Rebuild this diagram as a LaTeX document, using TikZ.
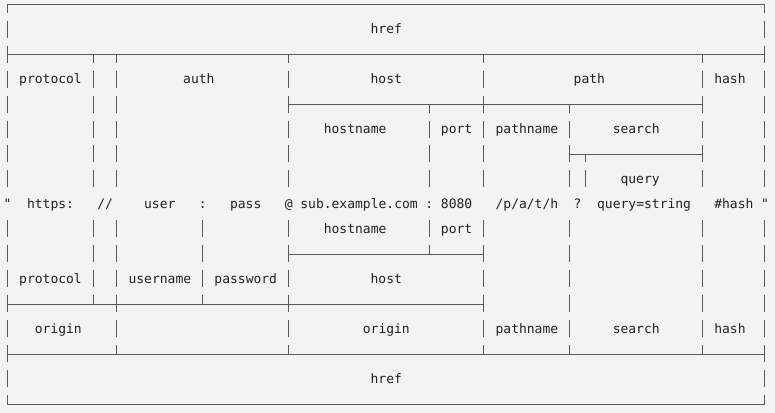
\documentclass[tikz,border=0pt]{standalone}
\usepackage{fontspec}
\usepackage{tikz}
\newfontfamily\urlmono{DejaVu Sans Mono}
\definecolor{urlink}{HTML}{222222}
\definecolor{urlrule}{HTML}{5A5A5A}
\definecolor{urlpaper}{HTML}{F3F3F3}

\begin{document}
\begin{tikzpicture}[x=7.81pt,y=-25pt,
  font=\urlmono\fontsize{13}{15}\selectfont,text=urlink,
  rule/.style={urlrule,line width=.9pt},
  barup/.style={rule,dash pattern=on 17pt off 8pt,dash phase=8.5pt},
  barlow/.style={rule,dash pattern=on 17pt off 8pt},
  lbl/.style={anchor=base west,inner sep=0pt}]
\path[use as bounding box] (-0.935,-0.16) rectangle (98.3,16.36);
\fill[urlpaper] (-0.935,-0.16) rectangle (98.3,16.36);

% horizontal rules (row, first column, last column)
\foreach \r/\a/\b in {0/0/97,2/0/97,4/36/89,6/72/89,10/36/61,12/0/61,14/0/97,16/0/97}
  \draw[rule] (\a,\r)--(\b,\r);
% vertical rules above the url line, then below it
\foreach \c/\a in {0/0,97/0,11/2,14/2,36/2,54/4,61/2,72/4,74/6,89/2}
  \draw[barup] (\c,\a)--(\c,7.34);
\foreach \c/\b in {0/16,97/16,11/12,14/14,25/12,36/14,54/10,61/14,72/14,89/14}
  \draw[barlow] (\c,8.66)--(\c,\b);

% upper labels
\node[lbl] (hrefTop) at (46.5,1.18) {href};
\node[lbl] (protoTop) at (1.5,3.18) {protocol};
\node[lbl] (authTop) at (22.5,3.18) {auth};
\node[lbl] (hostTop) at (46.5,3.18) {host};
\node[lbl] (pathTop) at (72.5,3.18) {path};
\node[lbl] (hashTop) at (90.5,3.18) {hash};
\node[lbl] (hostnameTop) at (40.5,5.18) {hostname};
\node[lbl] (portTop) at (55.5,5.18) {port};
\node[lbl] (pathnameTop) at (62.5,5.18) {pathname};
\node[lbl] (searchTop) at (77.5,5.18) {search};
\node[lbl] (queryTop) at (78.5,7.18) {query};

% the url itself
\node[lbl] (qOpen) at (-0.5,8.18) {"};
\node[lbl] (uScheme) at (2.5,8.18) {https:};
\node[lbl] (uSlash) at (11.5,8.18) {//};
\node[lbl] (uUser) at (17.5,8.18) {user};
\node[lbl] (uColA) at (24.5,8.18) {:};
\node[lbl] (uPass) at (28.5,8.18) {pass};
\node[lbl] (uAt) at (35.5,8.18) {@};
\node[lbl] (uHost) at (37.5,8.18) {sub.example.com};
\node[lbl] (uColB) at (53.5,8.18) {:};
\node[lbl] (uPort) at (55.5,8.18) {8080};
\node[lbl] (uPath) at (62.5,8.18) {/p/a/t/h};
\node[lbl] (uQmark) at (72.5,8.18) {?};
\node[lbl] (uQuery) at (75.5,8.18) {query=string};
\node[lbl] (uHash) at (90.5,8.18) {\#hash};
\node[lbl] (qClose) at (96.5,8.18) {"};

% lower labels
\node[lbl] (hostnameLow) at (40.5,9.18) {hostname};
\node[lbl] (portLow) at (55.5,9.18) {port};
\node[lbl] (protoLow) at (1.5,11.18) {protocol};
\node[lbl] (userLow) at (15.5,11.18) {username};
\node[lbl] (passLow) at (26.5,11.18) {password};
\node[lbl] (hostLow) at (46.5,11.18) {host};
\node[lbl] (originA) at (3.5,13.18) {origin};
\node[lbl] (originB) at (45.5,13.18) {origin};
\node[lbl] (pathnameLow) at (62.5,13.18) {pathname};
\node[lbl] (searchLow) at (77.5,13.18) {search};
\node[lbl] (hashLow) at (90.5,13.18) {hash};
\node[lbl] (hrefLow) at (46.5,15.18) {href};
\end{tikzpicture}
\end{document}
